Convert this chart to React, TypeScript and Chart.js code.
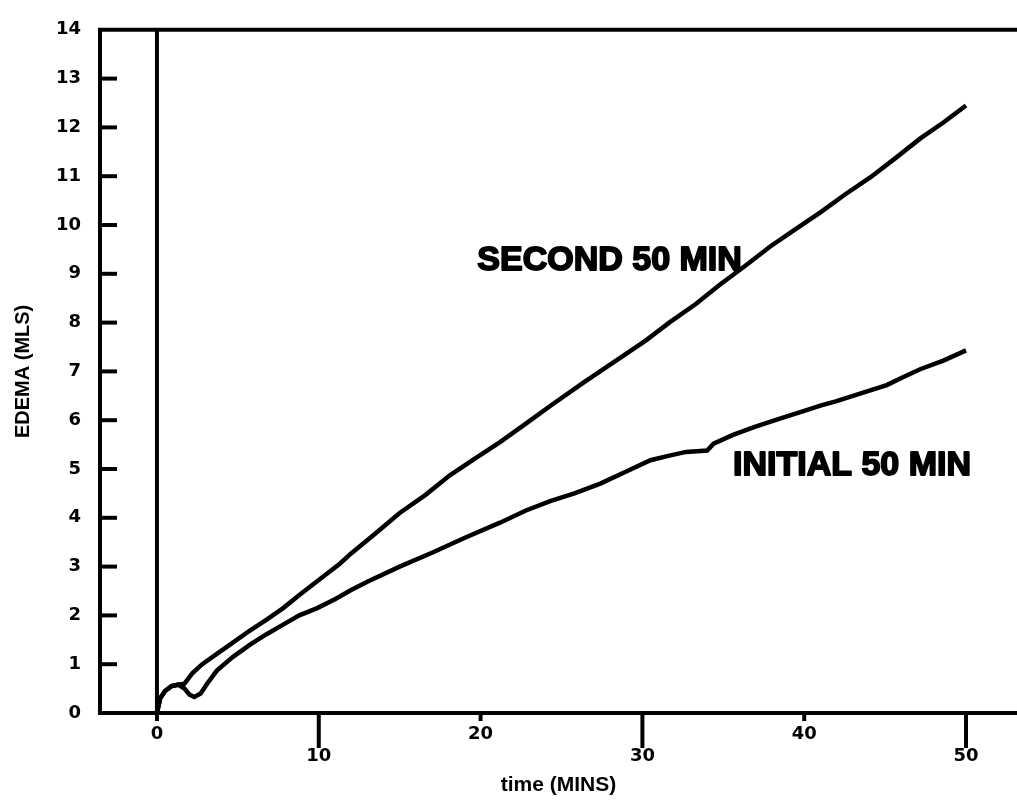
import { useEffect, useRef } from 'react';
import { Chart, registerables } from 'chart.js';

Chart.register(...registerables);

// ---- data ----
const timeInitial = [0, 0.2, 0.5, 0.9, 1.3, 1.7, 2.0, 2.3, 2.7, 3.1, 3.7, 4.7, 5.8, 6.8, 7.8, 8.8, 9.9, 11.0, 12.0, 13.0, 15.0, 17.1, 19.1, 21.2, 22.8, 24.3, 25.8, 27.4, 29.0, 30.5, 31.6, 32.7, 34.0, 34.4, 35.6, 36.9, 38.4, 40.0, 41.0, 42.0, 43.5, 45.1, 46.1, 47.2, 48.6, 50.0];
const edemaInitial = [0, 0.3, 0.45, 0.55, 0.58, 0.5, 0.38, 0.33, 0.4, 0.6, 0.87, 1.15, 1.41, 1.62, 1.81, 2.0, 2.15, 2.33, 2.52, 2.69, 3.0, 3.3, 3.6, 3.9, 4.15, 4.34, 4.5, 4.7, 4.95, 5.18, 5.27, 5.35, 5.38, 5.52, 5.7, 5.86, 6.02, 6.19, 6.3, 6.39, 6.55, 6.72, 6.88, 7.05, 7.22, 7.43];

const timeSecond = [0, 0.2, 0.5, 0.9, 1.3, 1.7, 2.2, 2.8, 3.7, 4.6, 5.7, 6.8, 7.8, 8.8, 9.9, 11.3, 12.0, 13.5, 15.0, 16.6, 18.1, 19.6, 21.2, 22.8, 24.3, 26.4, 28.6, 30.2, 31.7, 33.3, 34.8, 36.3, 37.9, 39.4, 41.0, 42.5, 44.1, 45.6, 47.2, 48.6, 50.0];
const edemaSecond = [0, 0.3, 0.45, 0.55, 0.58, 0.6, 0.82, 1.0, 1.21, 1.42, 1.68, 1.92, 2.15, 2.42, 2.7, 3.06, 3.27, 3.68, 4.1, 4.47, 4.87, 5.2, 5.55, 5.93, 6.29, 6.78, 7.27, 7.63, 8.01, 8.38, 8.78, 9.15, 9.56, 9.9, 10.26, 10.62, 10.98, 11.36, 11.78, 12.1, 12.45];

const seriesNames = ['INITIAL 50 MIN', 'SECOND 50 MIN'];
const xTickValues = [0, 10, 20, 30, 40, 50];
const yTickValues = [0, 1, 2, 3, 4, 5, 6, 7, 8, 9, 10, 11, 12, 13, 14];
const xAxisTitle = 'time (MINS)';
const yAxisTitle = 'EDEMA (MLS)';

// label anchors in data coordinates (left edge, vertical centre)
const labelAnchors = [
  { x: 35.6, y: 5.06 },
  { x: 19.8, y: 9.26 },
];

const FONT = '"Liberation Sans", Arial, sans-serif';
const TICK_FONT = '"DejaVu Sans", sans-serif';

const decorPlugin = {
  id: 'decor',
  beforeDatasetsDraw(chart: any) {
    const { ctx, chartArea, scales } = chart;
    const xs = scales.x;
    const ys = scales.y;
    const { left, right, top, bottom } = chartArea;
    ctx.save();
    ctx.strokeStyle = '#000';
    ctx.lineWidth = 4;
    ctx.lineCap = 'butt';
    const seg = (x1: number, y1: number, x2: number, y2: number) => {
      ctx.beginPath();
      ctx.moveTo(x1, y1);
      ctx.lineTo(x2, y2);
      ctx.stroke();
    };
    // top frame line
    seg(left - 2, top, right, top);
    // inward y ticks
    yTickValues.forEach((v) => {
      if (v === yTickValues[0] || v === yTickValues[yTickValues.length - 1]) return;
      const py = ys.getPixelForValue(v);
      seg(left, py, left + 17, py);
    });
    // x ticks, staggered lengths
    xTickValues.forEach((v, i) => {
      const px = xs.getPixelForValue(v);
      const len = i % 2 ? 35 : 8;
      seg(px, bottom, px, bottom + len);
    });
    // vertical line at time 0
    const p0 = xs.getPixelForValue(0);
    seg(p0, top, p0, bottom);
    ctx.restore();
  },
  afterDatasetsDraw(chart: any) {
    const { ctx, scales } = chart;
    ctx.save();
    ctx.fillStyle = '#000';
    ctx.strokeStyle = '#000';
    ctx.lineWidth = 1.8;
    ctx.lineJoin = 'round';
    ctx.font = `bold 34px ${FONT}`;
    ctx.textAlign = 'left';
    ctx.textBaseline = 'middle';
    seriesNames.forEach((name, i) => {
      const a = labelAnchors[i];
      const px = scales.x.getPixelForValue(a.x);
      const py = scales.y.getPixelForValue(a.y);
      ctx.fillText(name, px, py);
      ctx.strokeText(name, px, py);
    });
    ctx.restore();
  },
};

export default function App() {
  const ref = useRef<HTMLCanvasElement | null>(null);

  useEffect(() => {
    if (!ref.current) return;
    const tickFont = { family: TICK_FONT, size: 18, weight: 'bold' as const };
    const chart = new Chart(ref.current, {
      type: 'line',
      data: {
        datasets: [
          {
            label: seriesNames[0],
            data: timeInitial.map((t, i) => ({ x: t, y: edemaInitial[i] })),
            borderColor: '#000',
            borderWidth: 4.5,
            pointRadius: 0,
            tension: 0,
            fill: false,
          },
          {
            label: seriesNames[1],
            data: timeSecond.map((t, i) => ({ x: t, y: edemaSecond[i] })),
            borderColor: '#000',
            borderWidth: 4.5,
            pointRadius: 0,
            tension: 0,
            fill: false,
          },
        ],
      },
      options: {
        responsive: false,
        animation: false,
        layout: { padding: { top: 20, left: 0, right: 0, bottom: 0 } },
        plugins: {
          legend: { display: false },
          tooltip: { enabled: false },
        },
        scales: {
          x: {
            type: 'linear',
            min: -3.52,
            max: 53.15,
            afterBuildTicks: (s: any) => {
              s.ticks = xTickValues.map((v) => ({ value: v }));
            },
            afterFit: (s: any) => {
              s.height = 89;
            },
            grid: { display: false, drawTicks: false },
            border: { display: true, color: '#000', width: 4 },
            ticks: {
              color: '#000',
              font: tickFont,
              padding: 11,
              maxRotation: 0,
              autoSkip: false,
              callback: (v: any, i: number) => (i % 2 ? ['', String(v)] : String(v)),
            },
            title: {
              display: true,
              text: xAxisTitle,
              color: '#000',
              font: { family: FONT, size: 21, weight: 'bold' },
              padding: { top: 0, bottom: 4 },
            },
          },
          y: {
            type: 'linear',
            min: 0,
            max: 14,
            afterBuildTicks: (s: any) => {
              s.ticks = yTickValues.map((v) => ({ value: v }));
            },
            afterFit: (s: any) => {
              s.width = 100;
            },
            grid: { display: false, drawTicks: false },
            border: { display: true, color: '#000', width: 4 },
            ticks: {
              color: '#000',
              font: tickFont,
              padding: 19,
              autoSkip: false,
            },
            title: {
              display: true,
              text: yAxisTitle,
              color: '#000',
              font: { family: FONT, size: 20, weight: 'bold' },
              padding: { top: 11, bottom: 0 },
            },
          },
        },
      } as any,
      plugins: [decorPlugin],
    });
    return () => chart.destroy();
  }, []);

  return (
    <div style={{ position: 'fixed', left: 0, top: 0, width: 1017, height: 802, background: '#fff' }}>
      <canvas ref={ref} width={1017} height={802} style={{ display: 'block' }} />
    </div>
  );
}
